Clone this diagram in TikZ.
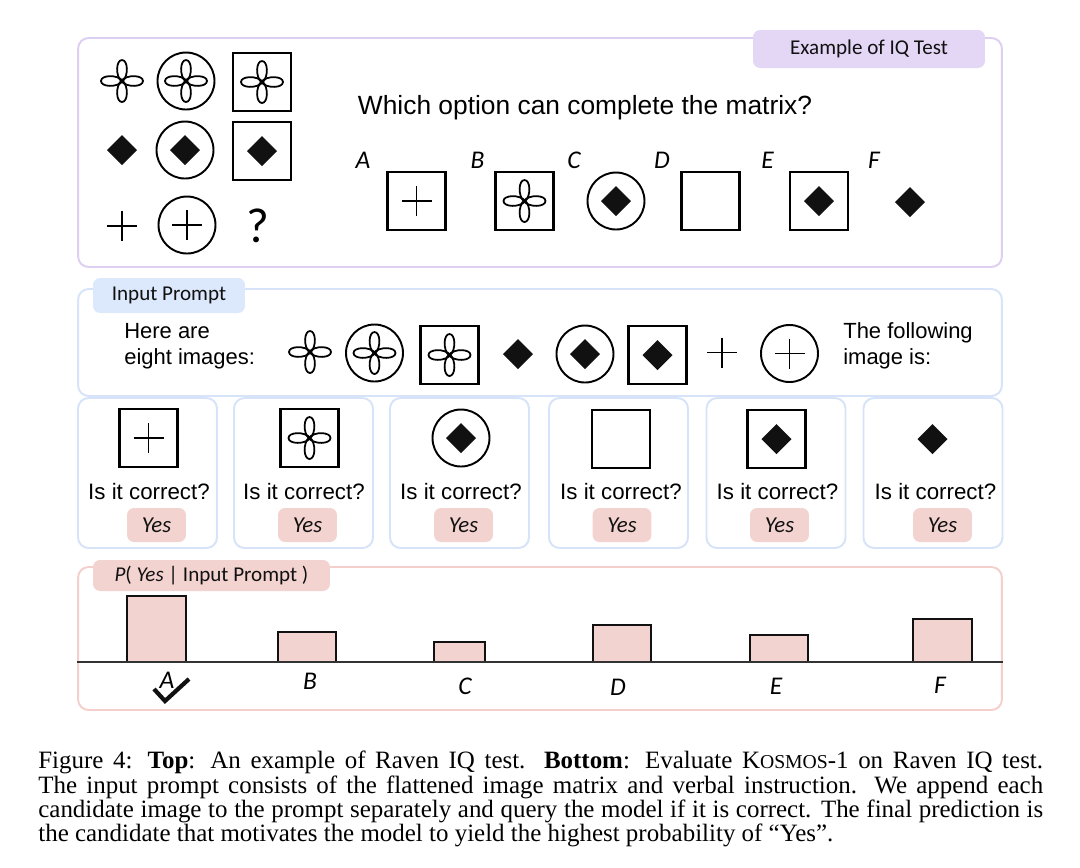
\documentclass[tikz,border=0pt]{standalone}
\usepackage{fontspec}
\setmainfont{Liberation Serif}
\newfontfamily\calib{Carlito}
\newfontfamily\helv{Liberation Sans}
\usetikzlibrary{positioning}
\definecolor{ink}      {HTML}{111111}
\definecolor{lavline}  {HTML}{DCCFF2}
\definecolor{lavfill}  {HTML}{E4D7F6}
\definecolor{skyline}  {HTML}{D6E3F8}
\definecolor{skyfill}  {HTML}{DCE8FB}
\definecolor{roseline} {HTML}{F4CFCB}
\definecolor{rosefill} {HTML}{F3D3D0}
\definecolor{axisgray} {HTML}{333333}
\newcommand{\px}{0.02cm}
\newcommand{\petal}{(0,1) .. controls (-7,-5) and (-6,-21) .. (0,-21) .. controls (6,-21) and (7,-5) .. (0,1)}
\tikzset{
  % --- frames and tags
  panel/.style  = {rounded corners=6pt, line width=1.1pt, inner sep=0pt},
  tagbox/.style = {rounded corners=4pt, inner sep=0pt, text=ink,
                   font=\calib\fontsize{12}{14}\selectfont},
  yesbox/.style = {tagbox, fill=rosefill, minimum width=1.18cm, minimum height=0.68cm,
                   font=\calib\itshape\fontsize{13}{14}\selectfont},
  % --- texts
  quest/.style  = {font=\helv\fontsize{15}{18}\selectfont, inner sep=0pt},
  say/.style    = {font=\helv\fontsize{12.5}{14.7}\selectfont, align=left, inner sep=0pt},
  ask/.style    = {font=\helv\fontsize{12.7}{15}\selectfont, inner sep=0pt},
  opt/.style    = {font=\calib\itshape\fontsize{14.5}{16}\selectfont, inner sep=0pt},
  capt/.style   = {font=\fontsize{14.2}{13.7}\selectfont, align=justify, text width=20.1cm,
                   inner sep=0pt},
  % --- bars
  bar/.style    = {fill=rosefill, draw=ink, line width=0.8pt},
  % --- icons
  pics/clover/.style = {code={
      \foreach \r in {0,90,180,270}
        \draw[line width=1pt, rotate=\r] \petal;}},
  pics/gem/.style    = {code={\fill[ink] (0,-15) -- (15,0) -- (0,15) -- (-15,0) -- cycle;}},
  pics/cross/.style  = {code={\draw[line width=1.1pt] (-15,0) -- (15,0) (0,-15) -- (0,15);}},
  pics/ring/.style   = {code={\draw[line width=1.1pt] (0,0) circle (28.5);}},
  pics/frame/.style  = {code={\draw[line width=1.6pt] (-29,-29) rectangle (29,29);}},
}

\begin{document}
\begin{tikzpicture}[x=\px, y=-\px]
  \fill[white] (0,0) rectangle (1080,867);
  \useasboundingbox (0,0) rectangle (1080,867);

  % panels
  \node[panel, draw=lavline, minimum width=18.48cm, minimum height=4.58cm] (iq) at (540,152.5) {};
  \node[panel, draw=skyline, minimum width=18.48cm, minimum height=2.14cm] (prompt) at (540,342.5) {};
  \foreach \x/\n in {147.5/1,303.5/2,459.5/3,618.5/4,776/5,933/6}
    \node[panel, draw=skyline, minimum width=2.78cm, minimum height=3cm] (cand\n) at (\x,473) {};
  \node[panel, draw=roseline, minimum width=18.48cm, minimum height=2.86cm] (prob) at (540,638.5) {};

  % tags
  \node[tagbox, fill=lavfill, minimum width=4.64cm, minimum height=0.76cm] (iqtag) at (869,49) {Example of IQ Test};
  \node[tagbox, fill=skyfill, minimum width=3.04cm, minimum height=0.70cm] (prompttag) at (169,295.5) {Input Prompt};
  \node[tagbox, fill=rosefill, minimum width=4.74cm, minimum height=0.62cm] (probtag) at (211.5,575.5)
    {\itshape P\upshape( \itshape Yes\upshape{} | Input Prompt )};

  % the matrix
  \pic at (122,81) {clover};  \pic at (186,81) {ring};  \pic at (186,81) {clover};
  \pic at (262,82) {frame};   \pic at (262,82) {clover};
  \pic at (122,150) {gem};    \pic at (185,150) {ring}; \pic at (185,150) {gem};
  \pic at (262,151) {frame};  \pic at (262,151) {gem};
  \pic at (122,226) {cross};  \pic at (187,225) {ring}; \pic at (187,225) {cross};
  \node[font=\calib\fontsize{28}{30}\selectfont, inner sep=0pt] (qmark) at (258,226) {?};

  \node[quest] (question) at (585,108) {Which option can complete the matrix?};

  \foreach \x/\l in {363/A,477.5/B,574/C,662/D,767.5/E,874/F}
    \node[opt] (opt\l) at (\x,160) {\l};
  \pic at (416.5,201) {frame}; \pic at (416.5,201) {cross};
  \pic at (524.5,201) {frame}; \pic at (524.5,201) {clover};
  \pic at (616,201) {ring};    \pic at (616,201) {gem};
  \pic at (710.5,201) {frame};
  \pic at (819,201) {frame};   \pic at (819,201) {gem};
  \pic at (910,202) {gem};

  % the prompt
  \node[say, anchor=west] (here) at (124,346) {Here are\\eight images:};
  \pic at (310,352) {clover};
  \pic at (374.5,353) {ring};  \pic at (374.5,353) {clover};
  \pic at (449.5,355) {frame}; \pic at (449.5,355) {clover};
  \pic at (518,354) {gem};
  \pic at (585,354) {ring};    \pic at (585,354) {gem};
  \pic at (657.5,355) {frame}; \pic at (657.5,355) {gem};
  \pic at (722,352.5) {cross};
  \pic at (789.5,353.5) {ring}; \pic at (789.5,353.5) {cross};
  \node[say, anchor=west] (following) at (843,346) {The following\\image is:};

  % the candidates
  \pic at (148.5,438) {frame}; \pic at (148.5,438) {cross};
  \pic at (309.5,438) {frame}; \pic at (309.5,438) {clover};
  \pic at (461,438) {ring};    \pic at (461,438) {gem};
  \pic at (621,439) {frame};
  \pic at (776.5,439) {frame}; \pic at (776.5,439) {gem};
  \pic at (932.5,439) {gem};
  \foreach \x/\y/\n in {149/156.5/1,304/307.5/2,461/463.5/3,621/622/4,777.5/779.5/5,935.5/942.5/6}{
    \node[ask] (ask\n) at (\x,492) {Is it correct?};
    \node[yesbox] (yes\n) at (\y,525) {Yes};
  }

  % the probabilities
  \coordinate (base) at (540,662);
  \foreach \a/\b/\t in {127/186/596,278/336/632,434/485/642,593/651/625,750/808/635,913/972/619}
    \draw[bar] (\a,662) rectangle (\b,\t);
  \draw[axisgray, line width=1pt] (prob.west |- base) -- (prob.east |- base);
  \foreach \x/\y/\l in {167/680/A,310/681/B,465/686/C,618/687/D,776/686/E,940/685/F}
    \node[opt] (bar\l) at (\x,\y) {\l};
  \draw[ink, line width=2.4pt] (154,689) -- (165,701) -- (189,679);

  % caption
  \node[capt, anchor=north west] (caption) at (38,751)
    {Figure 4: \textbf{Top}: An example of Raven IQ test. \textbf{Bottom}: Evaluate
     K{\fontsize{11.2}{12}\selectfont OSMOS}-1 on Raven IQ test.\linebreak
     The input prompt consists of the flattened image matrix and verbal instruction. We append each\linebreak
     candidate image to the prompt separately and query the model if it is correct. The final prediction is\linebreak
     the candidate that motivates the model to yield the highest probability of “Yes”.};
\end{tikzpicture}
\end{document}
